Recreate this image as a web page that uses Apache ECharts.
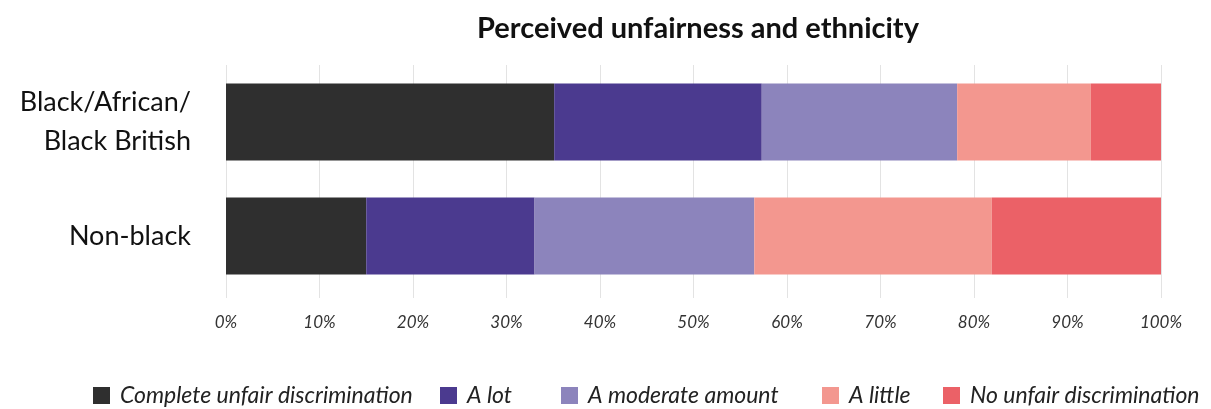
<!DOCTYPE html>
<html>
<head>
<meta charset="utf-8">
<script src="https://cdn.jsdelivr.net/npm/echarts@6/dist/echarts.min.js"></script>
<style>
html,body{margin:0;padding:0;background:#fff;}
#chart{width:1211px;height:409px;}
</style>
</head>
<body>
<div id="chart"></div>
<script>
const categories = ['Black/African/\nBlack British', 'Non-black'];
const seriesNames = ['Complete unfair discrimination', 'A lot', 'A moderate amount', 'A little', 'No unfair discrimination'];
const completeUnfair = [35.1, 15.0];
const aLot = [22.2, 18.0];
const moderate = [20.9, 23.5];
const aLittle = [14.3, 25.4];
const noUnfair = [7.5, 18.1];
const xTicks = [0, 10, 20, 30, 40, 50, 60, 70, 80, 90, 100];
const colors = ['#2f2f2f', '#4b3a8f', '#8c84bc', '#f3978f', '#eb6167'];

const values = [completeUnfair, aLot, moderate, aLittle, noUnfair];
const legendLefts = [93, 440, 561, 822, 943];
const font = 'Lato, "Open Sans", sans-serif';

const chart = echarts.init(document.getElementById('chart'));
chart.setOption({
  animation: false,
  color: colors,
  title: {
    text: 'Perceived unfairness and ethnicity',
    left: 693, top: 9, textAlign: 'center',
    textStyle: { fontFamily: font, fontWeight: 'bold', fontSize: 29, color: '#111' }
  },
  legend: seriesNames.map((n, i) => ({
    data: [n],
    left: legendLefts[i], top: 384,
    padding: 0,
    itemWidth: 17, itemHeight: 17,
    icon: 'rect',
    selectedMode: false,
    textStyle: { fontFamily: font, fontStyle: 'italic', fontSize: 23, color: '#222', padding: [0, 0, 0, 5] }
  })),
  grid: { left: 226, right: 50, top: 65, height: 228 },
  xAxis: {
    type: 'value', min: 0, max: 100, interval: 10,
    axisLine: { show: false },
    axisTick: { show: true, length: 5, lineStyle: { color: '#e3e3e3' } },
    splitLine: { show: true, lineStyle: { color: '#e3e3e3', width: 1 } },
    axisLabel: {
      margin: 21,
      fontFamily: font, fontStyle: 'italic', fontSize: 17, color: '#333',
      formatter: v => xTicks.includes(v) ? v + '%' : ''
    }
  },
  yAxis: {
    type: 'category', data: categories, inverse: true,
    axisLine: { show: false }, axisTick: { show: false },
    axisLabel: { margin: 35, fontFamily: font, fontSize: 27, color: '#111', lineHeight: 39, align: 'right' }
  },
  series: seriesNames.map((n, i) => ({
    name: n, type: 'bar', stack: 'total', data: values[i],
    barWidth: 77,
    itemStyle: { color: colors[i] }
  }))
});
</script>
</body>
</html>
